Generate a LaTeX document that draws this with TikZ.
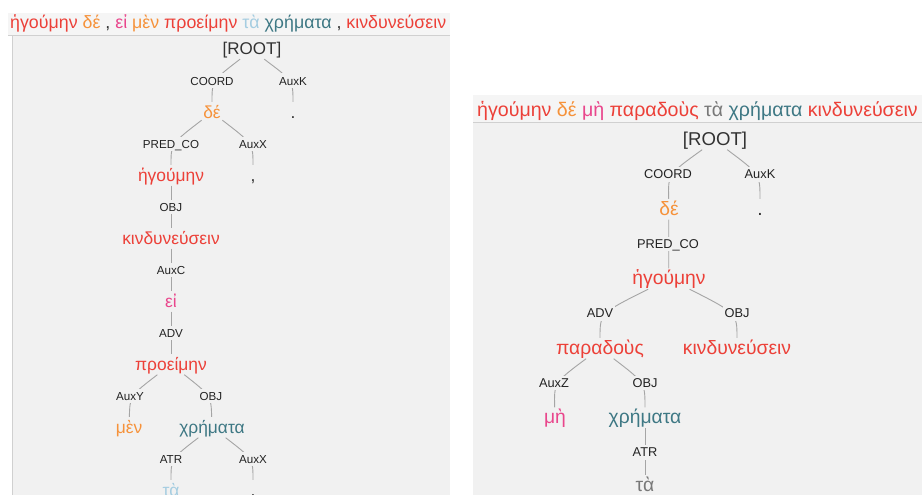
\documentclass[tikz,border=0pt]{standalone}
\usepackage{fontspec}
\setmainfont{Liberation Sans}
\usepackage{tikz}
\usetikzlibrary{positioning}
\definecolor{bgc}{RGB}{241,241,241}
\definecolor{barc}{RGB}{245,245,245}
\definecolor{rulec}{RGB}{208,208,208}
\definecolor{edgec}{RGB}{165,165,165}
\definecolor{labc}{RGB}{34,34,34}
\definecolor{punc}{RGB}{50,50,50}
\definecolor{wred}{RGB}{236,64,56}
\definecolor{worg}{RGB}{246,146,58}
\definecolor{wpink}{RGB}{233,70,140}
\definecolor{wsky}{RGB}{165,205,225}
\definecolor{wteal}{RGB}{62,120,132}
\definecolor{wgrey}{RGB}{120,120,120}
\pgfdeclarelayer{back}
\pgfdeclarelayer{edges}
\pgfsetlayers{back,edges,main}
\tikzset{%
	wrd/.style = {anchor = base, inner xsep = 1.5pt, inner ysep = 0pt, text height = 16pt, text depth = 4.5pt, font = \fontsize{#1}{#1}\selectfont},
	wrd/.default = 17.4,
	lab/.style = {anchor = base, fill = bgc, text = labc, inner xsep = 2pt, inner ysep = 3pt, text height = 8.5pt, text depth = 0pt, font = \fontsize{#1}{#1}\selectfont},
	lab/.default = 11.6,
	head/.style = {anchor = base, text = punc, inner sep = 0pt, text height = 14pt, text depth = 4pt, font = \fontsize{#1}{#1}\selectfont},
	head/.default = 17,
	ttl/.style = {anchor = base west, inner sep = 0pt, font = \fontsize{#1}{#1}\selectfont},
	dep/.style = {draw = edgec, line width = 0.9pt},
	rule/.style = {draw = rulec, line width = 0.8pt}
}
\begin{document}
\begin{tikzpicture}[x=1pt,y=-1pt]
			\useasboundingbox (0,0) rectangle (922,495);
			\clip (0,0) rectangle (922,495);
			% panels
			\begin{pgfonlayer}{back}
			\fill [barc] (8,13) rectangle (450,35);
			\fill [bgc] (12,35) rectangle (450,495);
			\draw [rule] (8,35.4) -- (450,35.4);
			\draw [rule] (12,35.4) -- (12,495);
			\fill [barc] (473,95) rectangle (922,122);
			\fill [bgc] (473,122) rectangle (922,495);
			\draw [rule] (473,122.4) -- (922,122.4);
			\end{pgfonlayer}
			% left sentence
			\node [ttl = 17.8] (s1) at (10,29) {{\color{wred}ἡγούμην} {\color{worg}δέ} {\color{punc},} {\color{wpink}εἰ} {\color{worg}μὲν} {\color{wred}προείμην} {\color{wsky}τὰ} {\color{wteal}χρήματα} {\color{punc},} {\color{wred}κινδυνεύσειν}};
			\node [head] (r1) at (252,55) {[ROOT]};
			\node [lab] (a1) at (212,85) {COORD};
			\node [lab] (a2) at (293,85) {AuxK};
			\node [wrd, worg] (de1) at (212,118) {δέ};
			\node [wrd, punc] (stop1) at (293,118) {.};
			\node [lab] (a3) at (171,148) {PRED\_CO};
			\node [lab] (a4) at (253,148) {AuxX};
			\node [wrd, wred] (heg1) at (171,181) {ἡγούμην};
			\node [wrd, punc] (com1) at (253,181) {,};
			\node [lab] (a5) at (171,211) {OBJ};
			\node [wrd, wred] (kin1) at (171,244) {κινδυνεύσειν};
			\node [lab] (a6) at (171,274) {AuxC};
			\node [wrd, wpink] (ei1) at (171,307) {εἰ};
			\node [lab] (a7) at (171,337) {ADV};
			\node [wrd, wred] (pro1) at (171,370) {προείμην};
			\node [lab] (a8) at (130,400) {AuxY};
			\node [lab] (a9) at (211,400) {OBJ};
			\node [wrd, worg] (men1) at (129,433) {μὲν};
			\node [wrd, wteal] (chr1) at (212,433) {χρήματα};
			\node [lab] (a10) at (171,463) {ATR};
			\node [lab] (a11) at (253,463) {AuxX};
			\node [wrd, wsky] (ta1) at (171,496) {τὰ};
			\node [wrd, punc] (com2) at (253,496) {,};
			% right sentence
			\node [ttl = 19.6] (s2) at (477,117) {{\color{wred}ἡγούμην} {\color{worg}δέ} {\color{wpink}μὴ} {\color{wred}παραδοὺς} {\color{wgrey}τὰ} {\color{wteal}χρήματα} {\color{wred}κινδυνεύσειν}};
			\node [head = 18.6] (r2) at (715,145.5) {[ROOT]};
			\node [lab = 12.8] (b1) at (668,178.5) {COORD};
			\node [lab = 12.8] (b2) at (760,178.5) {AuxK};
			\node [wrd = 19.3, worg] (de2) at (669,215) {δέ};
			\node [wrd = 19.3, punc] (stop2) at (760,215) {.};
			\node [lab = 12.8] (b3) at (668,248) {PRED\_CO};
			\node [wrd = 19.3, wred] (heg2) at (669,284.5) {ἡγούμην};
			\node [lab = 12.8] (b4) at (600,317.5) {ADV};
			\node [lab = 12.8] (b5) at (737,317.5) {OBJ};
			\node [wrd = 19.3, wred] (par2) at (600,354) {παραδοὺς};
			\node [wrd = 19.3, wred] (kin2) at (737,354) {κινδυνεύσειν};
			\node [lab = 12.8] (b6) at (554,387) {AuxZ};
			\node [lab = 12.8] (b7) at (645,387) {OBJ};
			\node [wrd = 19.3, wpink] (me2) at (555,423.5) {μὴ};
			\node [wrd = 19.3, wteal] (chr2) at (645,423.5) {χρήματα};
			\node [lab = 12.8] (b8) at (645,456.5) {ATR};
			\node [wrd = 19.3, wgrey, text depth = 2pt] (ta2) at (645,491) {τὰ};
			% dependencies
			\begin{pgfonlayer}{edges}
			\path [dep] (r1) .. controls (a1.center) and (a1.center) .. (de1);
			\path [dep] (r1) .. controls (a2.center) and (a2.center) .. (stop1);
			\path [dep] (de1) .. controls (a3.center) and (a3.center) .. (heg1);
			\path [dep] (de1) .. controls (a4.center) and (a4.center) .. (com1);
			\path [dep] (heg1) .. controls (a5.center) and (a5.center) .. (kin1);
			\path [dep] (kin1) .. controls (a6.center) and (a6.center) .. (ei1);
			\path [dep] (ei1) .. controls (a7.center) and (a7.center) .. (pro1);
			\path [dep] (pro1) .. controls (a8.center) and (a8.center) .. (men1);
			\path [dep] (pro1) .. controls (a9.center) and (a9.center) .. (chr1);
			\path [dep] (chr1) .. controls (a10.center) and (a10.center) .. (ta1);
			\path [dep] (chr1) .. controls (a11.center) and (a11.center) .. (com2);
			\path [dep] (r2) .. controls (b1.center) and (b1.center) .. (de2);
			\path [dep] (r2) .. controls (b2.center) and (b2.center) .. (stop2);
			\path [dep] (de2) .. controls (b3.center) and (b3.center) .. (heg2);
			\path [dep] (heg2) .. controls (b4.center) and (b4.center) .. (par2);
			\path [dep] (heg2) .. controls (b5.center) and (b5.center) .. (kin2);
			\path [dep] (par2) .. controls (b6.center) and (b6.center) .. (me2);
			\path [dep] (par2) .. controls (b7.center) and (b7.center) .. (chr2);
			\path [dep] (chr2) .. controls (b8.center) and (b8.center) .. (ta2);
			\end{pgfonlayer}
\end{tikzpicture}
\end{document}
